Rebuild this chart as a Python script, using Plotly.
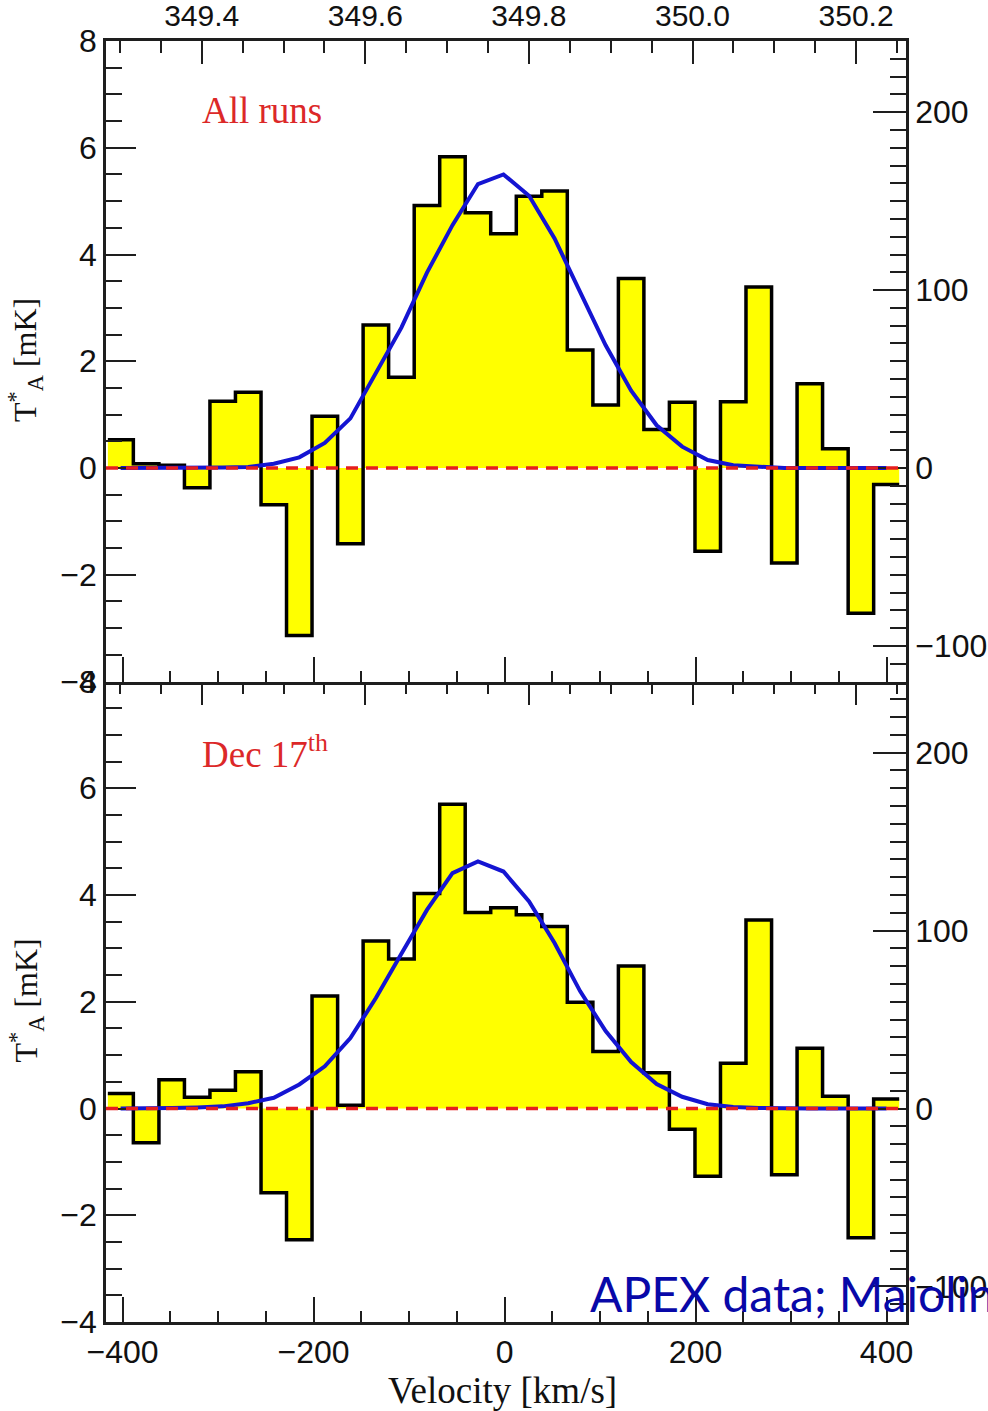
import plotly.graph_objects as go

# ---------------- data ----------------
velocity = [-402.0, -375.3, -348.5, -321.8, -295.1, -268.4, -241.6, -214.9, -188.2, -161.4,
            -134.7, -108.0, -81.2, -54.5, -27.8, -1.1, 25.7, 52.4, 79.1, 105.9,
            132.6, 159.3, 186.0, 212.8, 239.5, 266.2, 293.0, 319.7, 346.4, 373.2, 399.9]
channel_width = 26.73

all_runs = [0.53, 0.08, 0.05, -0.37, 1.25, 1.42, -0.69, -3.14, 0.97, -1.42,
            2.68, 1.70, 4.92, 5.83, 4.78, 4.39, 5.09, 5.19, 2.21, 1.18,
            3.55, 0.72, 1.23, -1.56, 1.24, 3.39, -1.78, 1.58, 0.36, -2.72, -0.31]
all_runs_fit = [0.0, 0.0, 0.0, 0.0, 0.01, 0.02, 0.08, 0.20, 0.47, 0.93,
                1.77, 2.63, 3.66, 4.55, 5.32, 5.50, 5.10, 4.30, 3.30, 2.30,
                1.45, 0.80, 0.40, 0.15, 0.05, 0.02, 0.0, 0.0, 0.0, 0.0, 0.0]

dec17 = [0.28, -0.64, 0.54, 0.21, 0.34, 0.69, -1.58, -2.46, 2.11, 0.06,
         3.14, 2.80, 4.03, 5.70, 3.67, 3.76, 3.63, 3.41, 1.99, 1.07,
         2.67, 0.67, -0.39, -1.27, 0.85, 3.53, -1.24, 1.13, 0.23, -2.42, 0.18]
dec17_fit = [0.0, 0.0, 0.01, 0.02, 0.04, 0.10, 0.20, 0.45, 0.79, 1.32,
             2.07, 2.90, 3.72, 4.41, 4.63, 4.44, 3.88, 3.10, 2.20, 1.45,
             0.87, 0.46, 0.22, 0.08, 0.03, 0.01, 0.0, 0.0, 0.0, 0.0, 0.0]

panel_labels = ["All runs", "Dec 17<sup>th</sup>"]

velocity_range = [-417.3, 420.4]
frequency_range = [349.283, 350.261]
ta_range = [-4, 8]
flux_range = [-120, 240]

# ---------------- styles ----------------
FRAME = "#1e1e1e"
YELLOW = "#ffff00"
FIT_BLUE = "#1414d2"
ZERO_RED = "#e61e1e"
LABEL_RED = "#dc2828"
TICK_FONT = dict(family="Liberation Sans", size=32, color="#111111")
TOP_FONT = dict(family="Liberation Sans", size=30, color="#111111")
SERIF = "Liberation Serif"


def step_xy(values):
    edges = [v - channel_width / 2 for v in velocity] + [velocity[-1] + channel_width / 2]
    return edges, list(values) + [values[-1]]


fig = go.Figure()

panels = [
    (all_runs, all_runs_fit, "x", "y", "x3", "y3"),
    (dec17, dec17_fit, "x2", "y2", "x4", "y4"),
]
for vals, fit, xa, ya, xo, yo in panels:
    ex, ey = step_xy(vals)
    fig.add_trace(go.Scatter(
        x=ex, y=ey, mode="lines", line=dict(shape="hv", color="black", width=3.5),
        fill="tozeroy", fillcolor=YELLOW, xaxis=xa, yaxis=ya, showlegend=False,
        hoverinfo="skip"))
    fig.add_trace(go.Scatter(
        x=velocity, y=fit, mode="lines", line=dict(color=FIT_BLUE, width=4),
        xaxis=xa, yaxis=ya, showlegend=False))
    fig.add_shape(type="line", xref=f"{xa} domain", yref=ya, x0=0, x1=1, y0=0, y1=0,
                  line=dict(color=ZERO_RED, width=3.5, dash="12px,8px"))
    # invisible carrier so the secondary (frequency / flux) axes get drawn
    fig.add_trace(go.Scatter(
        x=frequency_range, y=flux_range, mode="markers", marker=dict(opacity=0),
        xaxis=xo, yaxis=yo, showlegend=False, hoverinfo="skip"))


def vel_axis(show_labels, anchor):
    return dict(
        range=velocity_range, anchor=anchor, side="bottom", automargin=False,
        showline=True, linecolor=FRAME, linewidth=2.5, mirror=False,
        ticks="inside", ticklen=25, tickwidth=2, tickcolor=FRAME,
        tick0=-400, dtick=200, showticklabels=show_labels, tickfont=TICK_FONT,
        minor=dict(ticks="inside", ticklen=11, tickwidth=2, tickcolor=FRAME, dtick=50, tick0=-400),
        showgrid=False, zeroline=False, fixedrange=True,
    )


def freq_axis(show_labels, overlay, anchor, show_line):
    return dict(
        range=frequency_range, overlaying=overlay, anchor=anchor, side="top", automargin=False,
        showline=show_line, linecolor=FRAME, linewidth=2.5,
        ticks="inside", ticklen=23, tickwidth=2, tickcolor=FRAME,
        tick0=349.4, dtick=0.2, tickformat=".1f",
        showticklabels=show_labels, tickfont=TOP_FONT,
        minor=dict(ticks="inside", ticklen=12, tickwidth=2, tickcolor=FRAME, dtick=0.05, tick0=349.4),
        showgrid=False, zeroline=False, fixedrange=True,
    )


def ta_axis(domain, anchor):
    return dict(
        range=ta_range, domain=domain, anchor=anchor, side="left", automargin=False,
        showline=True, linecolor=FRAME, linewidth=2.5,
        ticks="inside", ticklen=30, tickwidth=2, tickcolor=FRAME,
        tick0=0, dtick=2, tickfont=TICK_FONT,
        minor=dict(ticks="inside", ticklen=16, tickwidth=2, tickcolor=FRAME, dtick=0.5, tick0=0),
        showgrid=False, zeroline=False, fixedrange=True,
    )


def flux_axis(overlay, anchor):
    return dict(
        range=flux_range, overlaying=overlay, anchor=anchor, side="right", automargin=False,
        showline=True, linecolor=FRAME, linewidth=2.5,
        ticks="inside", ticklen=33, tickwidth=2, tickcolor=FRAME,
        tick0=0, dtick=100, tickfont=TICK_FONT,
        minor=dict(ticks="inside", ticklen=16, tickwidth=2, tickcolor=FRAME, dtick=10, tick0=0),
        showgrid=False, zeroline=False, fixedrange=True,
    )


fig.update_layout(
    width=988, height=1411,
    margin=dict(l=106, r=82, t=41, b=89, autoexpand=False),
    paper_bgcolor="white", plot_bgcolor="white",
    xaxis=vel_axis(False, "y"),
    xaxis2=vel_axis(True, "y2"),
    xaxis3=freq_axis(True, "x", "y", True),
    xaxis4=freq_axis(False, "x2", "y2", False),
    yaxis=ta_axis([0.5, 1.0], "x"),
    yaxis2=ta_axis([0.0, 0.5], "x2"),
    yaxis3=flux_axis("y", "x"),
    yaxis4=flux_axis("y2", "x2"),
    showlegend=False,
)

annotations = [
    dict(text=panel_labels[0], x=0.1175, y=0.946, xref="paper", yref="paper",
         xanchor="left", yanchor="middle", showarrow=False,
         font=dict(family=SERIF, size=37, color=LABEL_RED)),
    dict(text=panel_labels[1], x=0.1175, y=0.445, xref="paper", yref="paper",
         xanchor="left", yanchor="middle", showarrow=False,
         font=dict(family=SERIF, size=37, color=LABEL_RED)),
    dict(text="Velocity [km/s]", x=0.496, y=-0.0535, xref="paper", yref="paper",
         xanchor="center", yanchor="middle", showarrow=False,
         font=dict(family=SERIF, size=37, color="#111111")),
    dict(text="T<sup>*</sup><sub>A</sub> [mK]", x=-0.1, y=0.751, xref="paper", yref="paper",
         xanchor="center", yanchor="middle", textangle=-90, showarrow=False,
         font=dict(family=SERIF, size=32, color="#111111")),
    dict(text="T<sup>*</sup><sub>A</sub> [mK]", x=-0.1, y=0.251, xref="paper", yref="paper",
         xanchor="center", yanchor="middle", textangle=-90, showarrow=False,
         font=dict(family=SERIF, size=32, color="#111111")),
    dict(text="APEX data; Maiolino et al. 2009", x=0.6025, y=0.0226, xref="paper", yref="paper",
         xanchor="left", yanchor="middle", showarrow=False,
         font=dict(family="Lato", size=48, color="#0808a8")),
]
fig.update_layout(annotations=annotations)

fig.write_html("out.html")
